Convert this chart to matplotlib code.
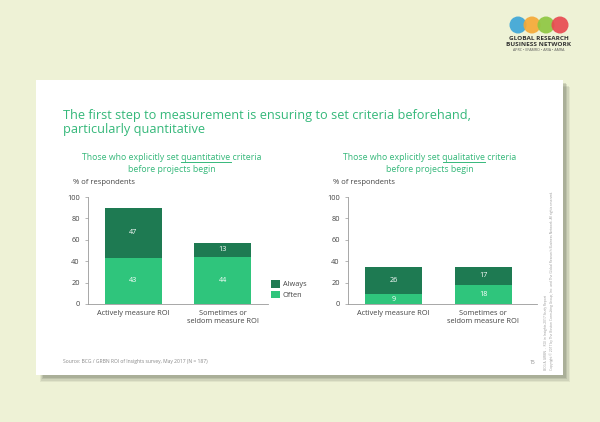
import numpy as np
import matplotlib.pyplot as plt
from matplotlib.patches import Rectangle, Circle

# data
categories = ['Actively measure ROI', 'Sometimes or\nseldom measure ROI']
quant_often = [43, 44]
quant_always = [47, 13]
qual_often = [9, 18]
qual_always = [26, 17]
series_names = ['Always', 'Often']
yticks = [0, 20, 40, 60, 80, 100]

BG = '#eef2d6'
DARK = '#1e7a52'
LIGHT = '#2fc57c'
TITLE_GREEN = '#35b87a'
GRAY = '#666666'
W, H = 600, 422

plt.rcParams['font.family'] = ['Open Sans', 'DejaVu Sans']

fig = plt.figure(figsize=(6, 4.22), dpi=100, facecolor=BG)

# overlay in pixel coords for the slide decorations
deco = fig.add_axes([0, 0, 1, 1])
deco.set_xlim(0, W)
deco.set_ylim(H, 0)
deco.axis('off')

# slide shadow + white slide
for i, a in enumerate([0.10, 0.14, 0.18, 0.22]):
    off = 7 - i * 1.5
    deco.add_patch(Rectangle((40 + i, 80 + off), 523 + off - i, 295, facecolor='#6b7260',
                             alpha=a, edgecolor='none', zorder=1))
deco.add_patch(Rectangle((36, 80), 527, 295, facecolor='white', edgecolor='none', zorder=2))

# logo
for cx, c in zip([518, 532, 546, 560], ['#3aa5d8', '#f5a834', '#8dc63f', '#e8474f']):
    deco.add_patch(Circle((cx, 25), 8.5, facecolor=c, edgecolor='none', alpha=0.9, zorder=3))
deco.text(539, 38, 'GLOBAL RESEARCH', fontsize=4.6, fontweight='bold', color='#333333',
          ha='center', va='center', zorder=4)
deco.text(539, 44, 'BUSINESS NETWORK', fontsize=4.6, fontweight='bold', color='#333333',
          ha='center', va='center', zorder=4)
deco.text(539, 50, 'APRC • EFAMRO • ARIA • AMRA', fontsize=2.6, color='#555555',
          ha='center', va='center', zorder=4)

# title
deco.text(63, 116, 'The first step to measurement is ensuring to set criteria beforehand,',
          fontsize=9.2, color=TITLE_GREEN, ha='left', va='center', zorder=4)
deco.text(63, 129, 'particularly quantitative',
          fontsize=9.2, color=TITLE_GREEN, ha='left', va='center', zorder=4)

SUB_FS = 6.3


def subtitle(cx, word):
    pre = 'Those who explicitly set '
    full = pre + word + ' criteria'
    t = deco.text(cx, 158, full, fontsize=SUB_FS, color=TITLE_GREEN, ha='center', va='center', zorder=4)
    deco.text(cx, 169, 'before projects begin', fontsize=SUB_FS, color=TITLE_GREEN,
              ha='center', va='center', zorder=4)
    # underline the key word
    r = fig.canvas.get_renderer()
    bb = t.get_window_extent(r)
    tp = deco.text(0, 0, pre, fontsize=SUB_FS)
    tw = deco.text(0, 0, pre + word, fontsize=SUB_FS)
    x0 = bb.x0 + tp.get_window_extent(r).width
    x1 = bb.x0 + tw.get_window_extent(r).width
    tp.remove()
    tw.remove()
    deco.plot([x0, x1], [162, 162], color=TITLE_GREEN, lw=0.7, zorder=4)


subtitle(172, 'quantitative')
subtitle(430, 'qualitative')

deco.text(73, 183, '% of respondents', fontsize=5.5, color='#444444', ha='left', va='center', zorder=4)
deco.text(333, 183, '% of respondents', fontsize=5.5, color='#444444', ha='left', va='center', zorder=4)

deco.text(63, 362, 'Source: BCG / GRBN ROI of Insights survey, May 2017 (N = 187)', fontsize=3.6,
          color='#888888', ha='left', va='center', zorder=4)
deco.text(532, 362, '15', fontsize=3.6, color='#888888', ha='center', va='center', zorder=4)
deco.text(546, 370, 'BCG & GRBN  -  ROI in Insights 2017 Study Report', fontsize=2.3,
          color='#999999', rotation=90, ha='center', va='bottom', zorder=4)
deco.text(552, 370, 'Copyright © 2017 by The Boston Consulting Group, Inc. and The Global Research '
          'Business Network. All rights reserved.', fontsize=2.3,
          color='#999999', rotation=90, ha='center', va='bottom', zorder=4)


def bar_chart(left_px, right_px, often, always, xmax):
    ax = fig.add_axes([left_px / W, (H - 304) / H, (right_px - left_px) / W, 107 / H])
    ax.set_facecolor('none')
    x = np.arange(len(categories))
    b1 = ax.bar(x, often, width=0.64, color=LIGHT, zorder=3)
    b2 = ax.bar(x, always, width=0.64, bottom=often, color=DARK, zorder=3)
    for bars, vals, base in [(b1, often, [0] * len(often)), (b2, always, often)]:
        for rect, v, b in zip(bars, vals, base):
            ax.text(rect.get_x() + rect.get_width() / 2, b + v / 2, str(v), color='white',
                    fontsize=5.2, ha='center', va='center', zorder=4)
    ax.set_ylim(0, 100)
    ax.set_xlim(-0.51, xmax)
    ax.set_yticks(yticks)
    ax.set_xticks(x)
    ax.set_xticklabels(categories, fontsize=5.3, color='#444444', linespacing=1.3)
    ax.tick_params(axis='y', labelsize=5.3, labelcolor='#444444', length=2, width=0.5, color='#999999', pad=4)
    ax.tick_params(axis='x', length=0, pad=4)
    for s in ['top', 'right']:
        ax.spines[s].set_visible(False)
    for s in ['left', 'bottom']:
        ax.spines[s].set_color('#999999')
        ax.spines[s].set_linewidth(0.6)
    return ax, b1, b2


axl, bl1, bl2 = bar_chart(88, 268, quant_often, quant_always, 1.51)
axr, br1, br2 = bar_chart(348, 537, qual_often, qual_always, 1.6)

leg = axl.legend([bl2, bl1], series_names, loc='upper left', bbox_to_anchor=(271 / W, (H - 280) / H),
                 bbox_transform=fig.transFigure, frameon=False, fontsize=5.3, handlelength=1.2,
                 handleheight=1.2, handletextpad=0.4, labelspacing=0.35, borderpad=0, borderaxespad=0)
for t in leg.get_texts():
    t.set_color('#444444')

fig.savefig('out.png', dpi=100, facecolor=BG)
